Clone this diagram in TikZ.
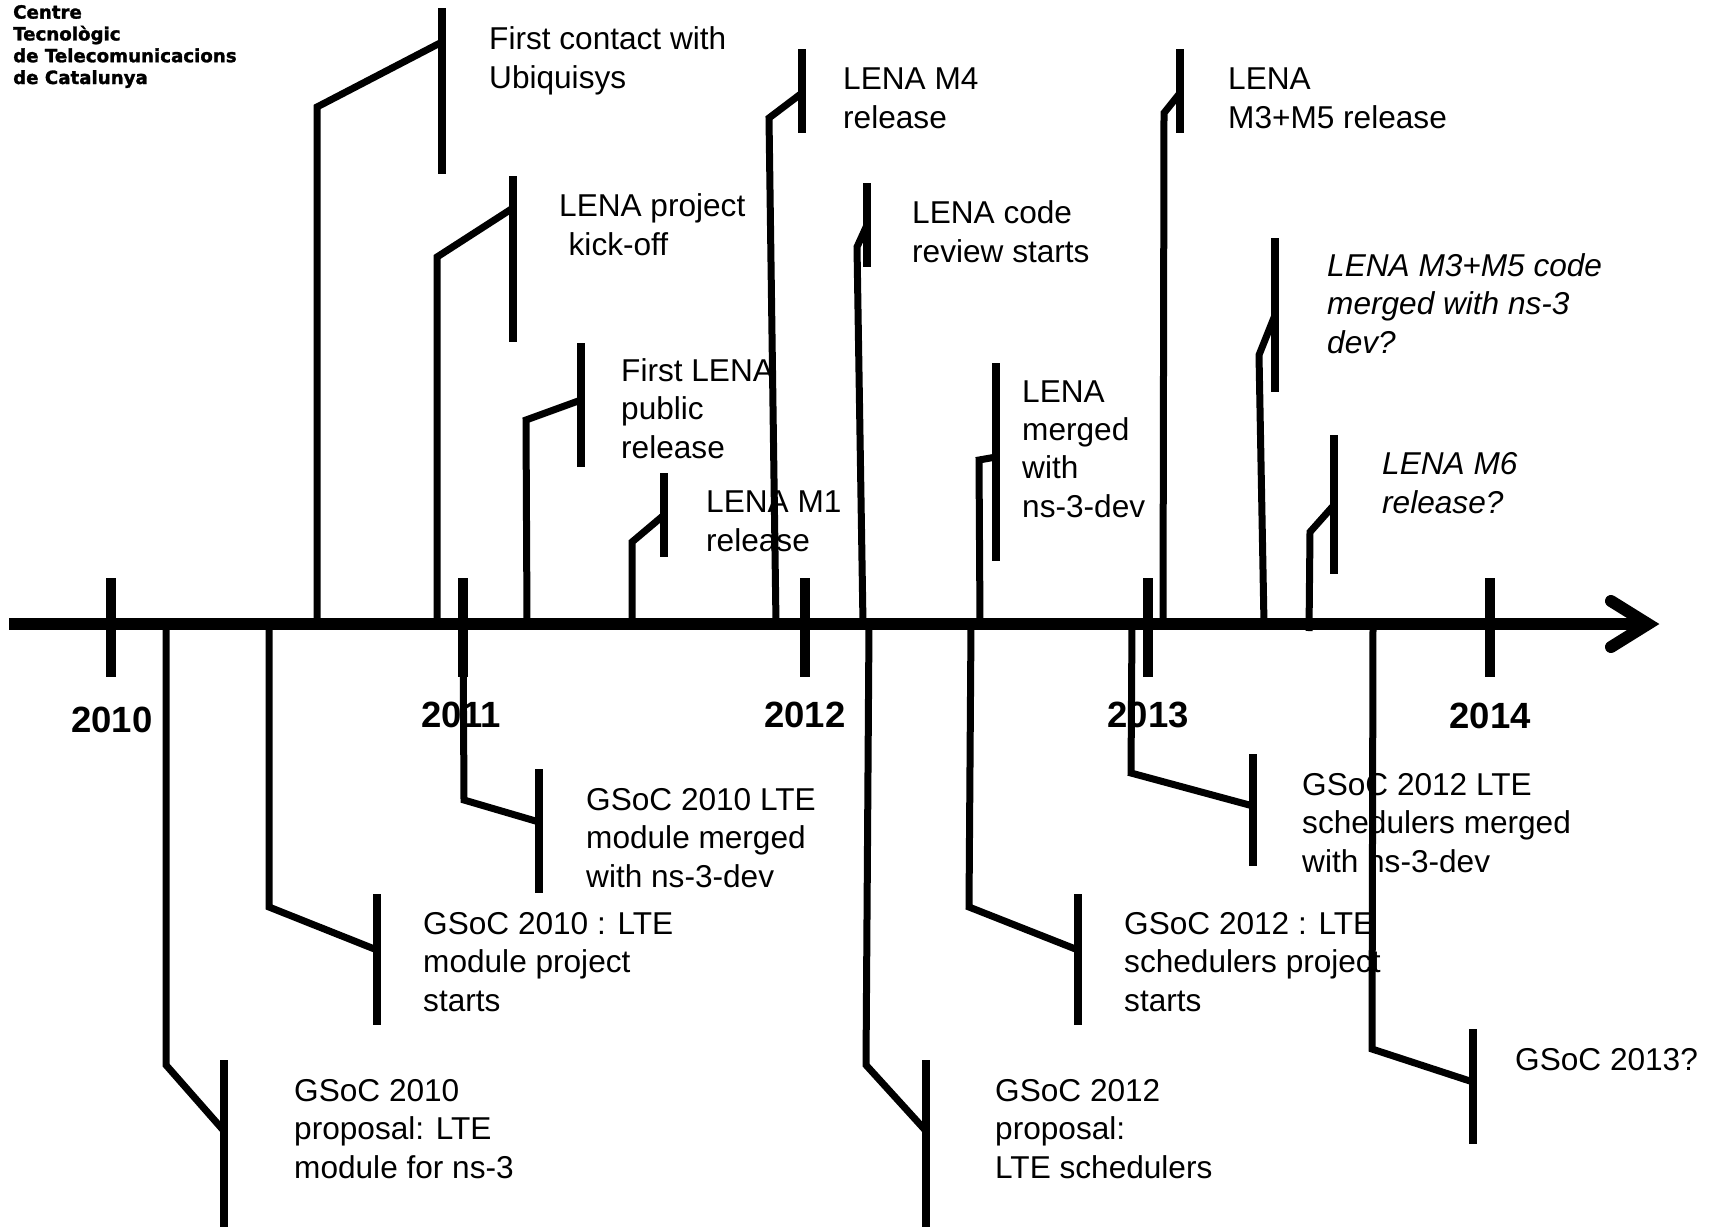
\documentclass[tikz,border=0pt]{standalone}
\usepackage{fontspec}
\setmainfont{Liberation Sans}
\newfontfamily\logofont[BoldFeatures={FakeBold=1.6}]{DejaVu Sans}
\begin{document}
\begin{tikzpicture}[x=1pt,y=-1pt,
  axisline/.style={line width=12.5pt},
  yeartick/.style={line width=10pt},
  bar/.style={line width=8pt},
  conn/.style={line width=7pt},
  lbl/.style={anchor=base west, inner sep=0pt, align=left, font=\fontsize{31.6}{38.3}\selectfont},
  ilbl/.style={anchor=base west, inner sep=0pt, align=left, font=\fontsize{31.6}{38.3}\selectfont\itshape},
  yearlbl/.style={anchor=base, inner sep=0pt, font=\fontsize{36.5}{40}\selectfont\bfseries},
]
\useasboundingbox (0,0) rectangle (1713,1227);

% logo (anchor = baseline of the last line)
\node[anchor=base west, inner sep=0pt, align=left, font=\logofont\fontsize{18.2}{21.8}\selectfont\bfseries] (logo) at (13,84)
  {Centre\\Tecnològic\\de Telecomunicacions\\de Catalunya};

% axis
\coordinate (axL) at (9,624);
\coordinate (axR) at (1640,624);
\draw[axisline] (axL) -- (axR);
\coordinate (ahA) at (1611,601);
\coordinate (ahT) at (1648,624);
\coordinate (ahB) at (1611,647);
\draw[line width=12pt, line cap=round, miter limit=10] (ahA) -- (ahT) -- (ahB);

% year ticks and labels
\foreach \x/\yr in {111/2010, 463/2011, 805/2012, 1148/2013, 1490/2014}{
  \coordinate (t\yr a) at (\x,578);
  \coordinate (t\yr b) at (\x,677);
  \draw[yeartick] (t\yr a) -- (t\yr b);
}
\node[yearlbl] (y2010) at (112,732) {2010};
\node[yearlbl] (y2011) at (461,727) {2011};
\node[yearlbl] (y2012) at (805,727) {2012};
\node[yearlbl] (y2013) at (1148,727) {2013};
\node[yearlbl] (y2014) at (1490,728) {2014};

% ---------- events above the axis (labels anchored at last baseline) ----------
% E1
\coordinate (e1s) at (317,624); \coordinate (e1k) at (317,107); \coordinate (e1j) at (442,42);
\coordinate (e1t) at (442,8); \coordinate (e1b) at (442,174);
\draw[conn] (e1s) -- (e1k) -- (e1j); \draw[bar] (e1t) -- (e1b);
\node[lbl] (e1) at (489,88) {First contact with\\Ubiquisys};
% E2
\coordinate (e2s) at (437,624); \coordinate (e2k) at (437,257); \coordinate (e2j) at (513,208);
\coordinate (e2t) at (513,176); \coordinate (e2b) at (513,342);
\draw[conn] (e2s) -- (e2k) -- (e2j); \draw[bar] (e2t) -- (e2b);
\node[lbl] (e2) at (559,255) {LENA project\\\hspace*{0.3em}kick-off};
% E3
\coordinate (e3s) at (527,624); \coordinate (e3k) at (526,420); \coordinate (e3j) at (581,400);
\coordinate (e3t) at (581,343); \coordinate (e3b) at (581,467);
\draw[conn] (e3s) -- (e3k) -- (e3j); \draw[bar] (e3t) -- (e3b);
\node[lbl] (e3) at (621,458) {First LENA\\public\\release};
% E4
\coordinate (e4s) at (632,624); \coordinate (e4k) at (632,542); \coordinate (e4j) at (664,515);
\coordinate (e4t) at (664,473); \coordinate (e4b) at (664,557);
\draw[conn] (e4s) -- (e4k) -- (e4j); \draw[bar] (e4t) -- (e4b);
\node[lbl] (e4) at (706,551) {LENA M1\\release};
% E5
\coordinate (e5s) at (776,624); \coordinate (e5k) at (769,118); \coordinate (e5j) at (802,93);
\coordinate (e5t) at (802,49); \coordinate (e5b) at (802,133);
\draw[conn] (e5s) -- (e5k) -- (e5j); \draw[bar] (e5t) -- (e5b);
\node[lbl] (e5) at (843,128) {LENA M4\\release};
% E6
\coordinate (e6s) at (863,624); \coordinate (e6k) at (857,247); \coordinate (e6j) at (867,225);
\coordinate (e6t) at (867,183); \coordinate (e6b) at (867,267);
\draw[conn] (e6s) -- (e6k) -- (e6j); \draw[bar] (e6t) -- (e6b);
\node[lbl] (e6) at (912,262) {LENA code\\review starts};
% E7
\coordinate (e7s) at (1163,624); \coordinate (e7k) at (1164,113); \coordinate (e7j) at (1180,93);
\coordinate (e7t) at (1180,49); \coordinate (e7b) at (1180,133);
\draw[conn] (e7s) -- (e7k) -- (e7j); \draw[bar] (e7t) -- (e7b);
\node[lbl] (e7) at (1228,128) {LENA\\M3+M5 release};
% E8
\coordinate (e8s) at (980,624); \coordinate (e8k) at (979,460); \coordinate (e8j) at (996,457);
\coordinate (e8t) at (996,363); \coordinate (e8b) at (996,561);
\draw[conn] (e8s) -- (e8k) -- (e8j); \draw[bar] (e8t) -- (e8b);
\node[lbl] (e8) at (1022,517) {LENA\\merged\\with\\ns-3-dev};
% E9
\coordinate (e9s) at (1264,624); \coordinate (e9k) at (1259,355); \coordinate (e9j) at (1275,315);
\coordinate (e9t) at (1275,238); \coordinate (e9b) at (1275,392);
\draw[conn] (e9s) -- (e9k) -- (e9j); \draw[bar] (e9t) -- (e9b);
\node[ilbl] (e9) at (1327,353) {LENA M3+M5 code\\merged with ns-3\\dev?};
% E10
\coordinate (e10s) at (1309,631); \coordinate (e10k) at (1310,532); \coordinate (e10j) at (1334,505);
\coordinate (e10t) at (1334,435); \coordinate (e10b) at (1334,574);
\draw[conn] (e10s) -- (e10k) -- (e10j); \draw[bar] (e10t) -- (e10b);
\node[ilbl] (e10) at (1382,513) {LENA M6\\release?};

% ---------- events below the axis ----------
% B1
\coordinate (b1s) at (166,624); \coordinate (b1k) at (166,1065); \coordinate (b1j) at (224,1131);
\coordinate (b1t) at (224,1060); \coordinate (b1b) at (224,1227);
\draw[conn] (b1s) -- (b1k) -- (b1j); \draw[bar] (b1t) -- (b1b);
\node[lbl] (b1) at (294,1178) {GSoC 2010\\proposal: LTE\\module for ns-3};
% B2
\coordinate (b2s) at (269,624); \coordinate (b2k) at (269,907); \coordinate (b2j) at (377,950);
\coordinate (b2t) at (377,894); \coordinate (b2b) at (377,1025);
\draw[conn] (b2s) -- (b2k) -- (b2j); \draw[bar] (b2t) -- (b2b);
\node[lbl] (b2) at (423,1011) {GSoC 2010 : LTE\\module project\\starts};
% B3
\coordinate (b3s) at (463,624); \coordinate (b3k) at (464,800); \coordinate (b3j) at (539,822);
\coordinate (b3t) at (539,769); \coordinate (b3b) at (539,893);
\draw[conn] (b3s) -- (b3k) -- (b3j); \draw[bar] (b3t) -- (b3b);
\node[lbl] (b3) at (586,887) {GSoC 2010 LTE\\module merged\\with ns-3-dev};
% B4
\coordinate (b4s) at (869,624); \coordinate (b4k) at (866,1065); \coordinate (b4j) at (926,1131);
\coordinate (b4t) at (926,1060); \coordinate (b4b) at (926,1227);
\draw[conn] (b4s) -- (b4k) -- (b4j); \draw[bar] (b4t) -- (b4b);
\node[lbl] (b4) at (995,1178) {GSoC 2012\\proposal:\\LTE schedulers};
% B5
\coordinate (b5s) at (971,624); \coordinate (b5k) at (969,907); \coordinate (b5j) at (1078,950);
\coordinate (b5t) at (1078,894); \coordinate (b5b) at (1078,1025);
\draw[conn] (b5s) -- (b5k) -- (b5j); \draw[bar] (b5t) -- (b5b);
\node[lbl] (b5) at (1124,1011) {GSoC 2012 : LTE\\schedulers project\\starts};
% B6
\coordinate (b6s) at (1132,624); \coordinate (b6k) at (1131,773); \coordinate (b6j) at (1253,806);
\coordinate (b6t) at (1253,754); \coordinate (b6b) at (1253,866);
\draw[conn] (b6s) -- (b6k) -- (b6j); \draw[bar] (b6t) -- (b6b);
\node[lbl] (b6) at (1302,872) {GSoC 2012 LTE\\schedulers merged\\with ns-3-dev};
% B7
\coordinate (b7s) at (1373,624); \coordinate (b7k) at (1372,1049); \coordinate (b7j) at (1473,1082);
\coordinate (b7t) at (1473,1029); \coordinate (b7b) at (1473,1144);
\draw[conn] (b7s) -- (b7k) -- (b7j); \draw[bar] (b7t) -- (b7b);
\node[lbl] (b7) at (1515,1070) {GSoC 2013?};
\end{tikzpicture}
\end{document}
